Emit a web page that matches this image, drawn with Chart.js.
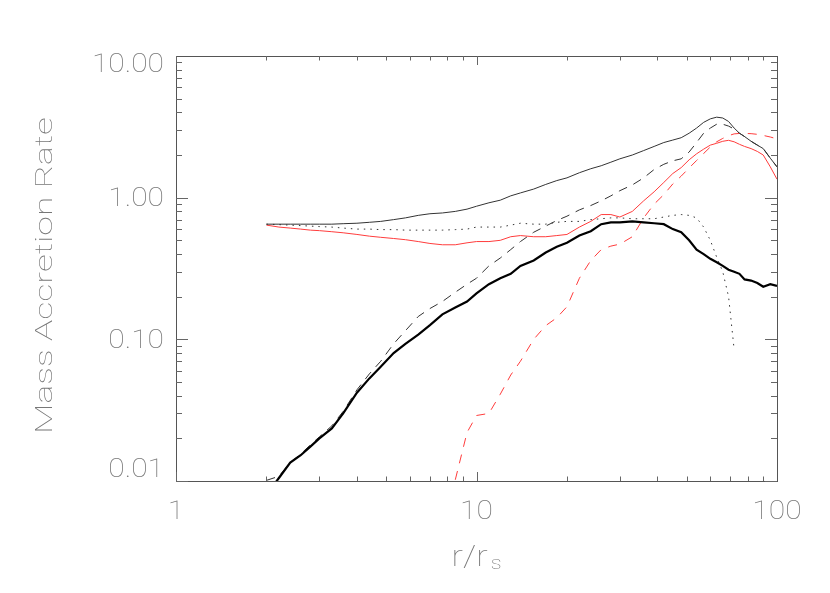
<!DOCTYPE html>
<html>
<head>
<meta charset="utf-8">
<script src="https://cdn.jsdelivr.net/npm/chart.js@4.4.1/dist/chart.umd.min.js"></script>
<style>
    body { margin: 0; background: #fff; }
    #contenedor { width: 830px; height: 593px; }
</style>
</head>
<body>
<div id="contenedor"><canvas id="grafica" width="830" height="593"></canvas></div>
<script>
// radio en unidades de r_s (eje x)
const radius = [2.0, 2.2, 2.4, 2.6, 2.8, 3.0, 3.3, 3.6, 4.0, 4.4,
                4.8, 5.3, 5.8, 6.4, 7.0, 7.7, 8.5, 9.3, 10, 11,
                12, 13, 14, 15.5, 17, 18.5, 20, 22, 24, 26,
                28, 30, 33, 36, 39, 42, 45, 48, 51, 54,
                57, 60, 63, 66, 69, 72, 75, 78, 82, 86,
                90, 95, 100];

// linea negra fina
const thinSolid = [0.65, 0.65, 0.65, 0.65, 0.65, 0.65, 0.65, 0.655, 0.66, 0.67,
                   0.68, 0.70, 0.72, 0.75, 0.77, 0.78, 0.80, 0.83, 0.87, 0.92,
                   0.96, 1.03, 1.08, 1.15, 1.24, 1.32, 1.38, 1.50, 1.60, 1.68,
                   1.78, 1.88, 2.00, 2.15, 2.30, 2.45, 2.55, 2.65, 2.85, 3.10,
                   3.40, 3.60, 3.70, 3.65, 3.45, 3.10, 2.85, 2.70, 2.50, 2.35,
                   2.22, 1.90, 1.65];

// linea negra punteada
const dotted = [0.65, 0.645, 0.64, 0.635, 0.63, 0.625, 0.62, 0.61, 0.60, 0.60,
                0.595, 0.595, 0.59, 0.59, 0.59, 0.59, 0.595, 0.60, 0.62, 0.62,
                0.62, 0.64, 0.66, 0.65, 0.65, 0.67, 0.68, 0.68, 0.70, 0.71,
                0.72, 0.72, 0.71, 0.71, 0.71, 0.73, 0.75, 0.76, 0.75, 0.72,
                0.62, 0.50, 0.38, 0.30, 0.20, 0.085, null, null, null, null,
                null, null, null];

// linea roja continua
const redSolid = [0.64, 0.62, 0.61, 0.60, 0.59, 0.585, 0.575, 0.565, 0.55, 0.535,
                  0.525, 0.515, 0.505, 0.49, 0.475, 0.465, 0.465, 0.48, 0.49, 0.49,
                  0.50, 0.53, 0.54, 0.53, 0.53, 0.54, 0.55, 0.62, 0.68, 0.76,
                  0.76, 0.73, 0.80, 0.95, 1.10, 1.28, 1.48, 1.63, 1.85, 2.04,
                  2.20, 2.35, 2.42, 2.50, 2.54, 2.48, 2.38, 2.30, 2.22, 2.12,
                  2.00, 1.65, 1.35];

// linea negra a trazos
const dashed = [0.0101, 0.0108, 0.0135, 0.0155, 0.018, 0.0205, 0.0245, 0.031, 0.044, 0.057,
                0.070, 0.093, 0.115, 0.145, 0.165, 0.185, 0.215, 0.245, 0.27, 0.33,
                0.375, 0.43, 0.49, 0.57, 0.63, 0.69, 0.74, 0.82, 0.88, 0.95,
                1.03, 1.12, 1.23, 1.38, 1.58, 1.72, 1.82, 1.88, 2.10, 2.45,
                2.85, 3.10, 3.30, 3.30, 3.20, 3.05, 2.85, 2.70, 2.50, 2.35,
                2.22, 1.90, 1.65];

// linea negra gruesa
const thickSolid = [0.008, 0.0105, 0.0135, 0.0152, 0.0175, 0.020, 0.0235, 0.030, 0.042, 0.053,
                    0.064, 0.080, 0.093, 0.108, 0.126, 0.150, 0.168, 0.185, 0.211, 0.245,
                    0.27, 0.29, 0.33, 0.36, 0.41, 0.45, 0.48, 0.54, 0.58, 0.65,
                    0.67, 0.67, 0.68, 0.67, 0.66, 0.65, 0.60, 0.57, 0.50, 0.43,
                    0.40, 0.37, 0.35, 0.33, 0.31, 0.30, 0.29, 0.265, 0.26, 0.25,
                    0.235, 0.245, 0.238];

// linea roja a trazos
const redDashed = [null, null, null, null, null, null, null, null, null, null,
                   null, null, null, null, null, null, 0.0102, 0.022, 0.029, 0.030,
                   0.041, 0.056, 0.070, 0.100, 0.125, 0.142, 0.17, 0.27, 0.36, 0.43,
                   0.455, 0.47, 0.53, 0.72, 0.90, 1.05, 1.25, 1.42, 1.62, 1.83,
                   2.05, 2.28, 2.48, 2.62, 2.74, 2.82, 2.84, 2.84, 2.83, 2.80,
                   2.75, 2.68, 2.60];

const xTicks = [1, 10, 100];
const xTickLabels = ['1', '10', '100'];
const yTicks = [0.01, 0.1, 1, 10];
const yTickLabels = ['0.01', '0.10', '1.00', '10.00'];

function puntos(valores) {
    return radius.map((r, i) => ({ x: r, y: valores[i] }));
}

const fuente = '"Roboto", "DejaVu Sans", sans-serif';

// marco, marcas hacia dentro y textos al estilo IDL
const marco = {
    id: 'marco',
    afterDraw(chart) {
        const ctx = chart.ctx;
        const a = chart.chartArea;
        const xs = chart.scales.x;
        const ys = chart.scales.y;
        ctx.save();

        ctx.strokeStyle = '#555';
        ctx.lineWidth = 1;
        ctx.strokeRect(Math.round(a.left) + 0.5, Math.round(a.top) + 0.5,
                       Math.round(a.right - a.left), Math.round(a.bottom - a.top));

        ctx.strokeStyle = '#666';
        ctx.beginPath();
        for (let e = -2; e <= 0; e++) {
            for (let k = 1; k <= 9; k++) {
                const y = Math.round(ys.getPixelForValue(k * Math.pow(10, e))) + 0.5;
                const len = k === 1 ? 12 : 6;
                ctx.moveTo(a.left, y); ctx.lineTo(a.left + len, y);
                ctx.moveTo(a.right, y); ctx.lineTo(a.right - len, y);
            }
        }
        for (let e = 0; e <= 1; e++) {
            for (let k = 1; k <= 9; k++) {
                const x = Math.round(xs.getPixelForValue(k * Math.pow(10, e))) + 0.5;
                const len = k === 1 ? 9 : 4.5;
                ctx.moveTo(x, a.bottom); ctx.lineTo(x, a.bottom - len);
                ctx.moveTo(x, a.top); ctx.lineTo(x, a.top + len);
            }
        }
        ctx.stroke();

        ctx.fillStyle = '#777';
        ctx.font = '100 25px ' + fuente;
        ctx.textBaseline = 'middle';

        ctx.textAlign = 'right';
        yTicks.forEach((v, i) => {
            let y = ys.getPixelForValue(v) + 2.5;
            y = Math.min(Math.max(y, a.top + 10), a.bottom - 10);
            ctx.save();
            ctx.translate(a.left - 12, y);
            ctx.scale(1.2, 1);
            ctx.fillText(yTickLabels[i], 0, 0);
            ctx.restore();
        });

        ctx.textAlign = 'center';
        xTicks.forEach((v, i) => {
            ctx.save();
            ctx.translate(xs.getPixelForValue(v), a.bottom + 32);
            ctx.scale(1.2, 1);
            ctx.fillText(xTickLabels[i], 0, 0);
            ctx.restore();
        });

        // titulo eje y
        ctx.save();
        ctx.font = '100 24px ' + fuente;
        ctx.translate(46, (a.top + a.bottom) / 2 + 7);
        ctx.rotate(-Math.PI / 2);
        ctx.scale(1.48, 1);
        ctx.fillText('Mass Accretion Rate', 0, 0);
        ctx.restore();

        // titulo eje x: r/r_s
        ctx.save();
        ctx.textAlign = 'left';
        ctx.textBaseline = 'alphabetic';
        ctx.font = '100 30px ' + fuente;
        const w1 = ctx.measureText('r/r').width * 1.15;
        ctx.font = '100 19px ' + fuente;
        const w2 = ctx.measureText('s').width * 1.15;
        const x0 = xs.getPixelForValue(10) - (w1 + w2 + 3) / 2;
        ctx.translate(x0, 566);
        ctx.scale(1.15, 1);
        ctx.font = '100 30px ' + fuente;
        ctx.fillText('r/r', 0, 0);
        ctx.font = '100 19px ' + fuente;
        ctx.fillText('s', (w1 + 3) / 1.15, 3);
        ctx.restore();

        ctx.restore();
    }
};

const ctx = document.getElementById('grafica');
const grafica = new Chart(ctx, {
    type: 'line',
    data: {
        datasets: [
            { data: puntos(thickSolid), borderColor: '#000', borderWidth: 2.2 },
            { data: puntos(thinSolid), borderColor: '#333', borderWidth: 1 },
            { data: puntos(dashed), borderColor: '#333', borderWidth: 1, borderDash: [9, 7] },
            { data: puntos(dotted), borderColor: '#333', borderWidth: 1, borderDash: [1.5, 5] },
            { data: puntos(redSolid), borderColor: 'rgb(255, 60, 60)', borderWidth: 1 },
            { data: puntos(redDashed), borderColor: 'rgb(255, 60, 60)', borderWidth: 1, borderDash: [9, 8] }
        ]
    },
    options: {
        responsive: false,
        animation: false,
        layout: { padding: { left: 176, right: 53, top: 56, bottom: 112 } },
        elements: {
            point: { radius: 0 },
            line: { tension: 0, fill: false }
        },
        plugins: {
            legend: { display: false },
            tooltip: { enabled: false }
        },
        scales: {
            x: {
                type: 'logarithmic',
                min: 1,
                max: 100,
                ticks: { display: false },
                grid: { display: false },
                border: { display: false },
                afterFit: (escala) => { escala.height = 0; }
            },
            y: {
                type: 'logarithmic',
                min: 0.01,
                max: 10,
                ticks: { display: false },
                grid: { display: false },
                border: { display: false },
                afterFit: (escala) => { escala.width = 0; }
            }
        }
    },
    plugins: [marco]
});
</script>
</body>
</html>
